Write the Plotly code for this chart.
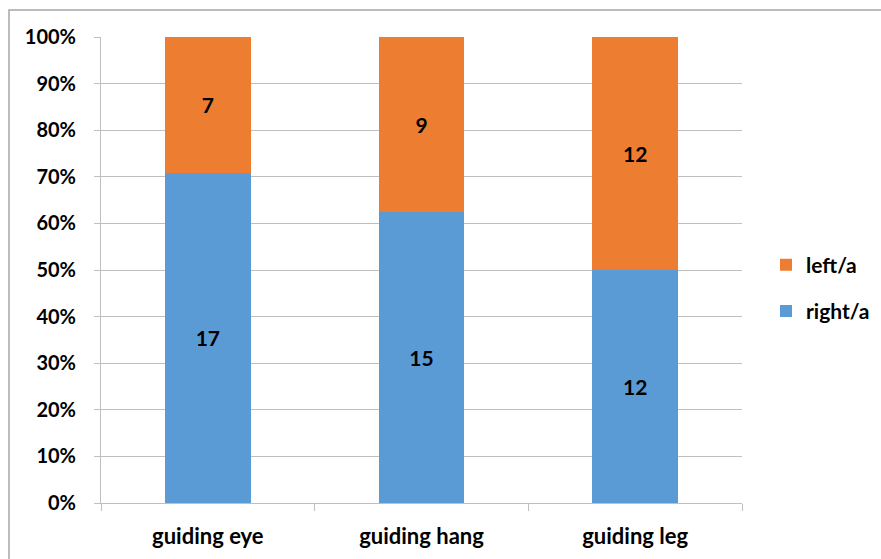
import plotly.graph_objects as go

categories = ["guiding eye", "guiding hang", "guiding leg"]
right_a = [17, 15, 12]
left_a = [7, 9, 12]
y_ticks = [0, 10, 20, 30, 40, 50, 60, 70, 80, 90, 100]
y_tick_labels = [f"{v}%" for v in y_ticks]

BLUE = "#5B9BD5"
ORANGE = "#ED7D31"
GRID = "#BFBFBF"
FONT = "Lato"

fig = go.Figure()
for name, vals, color, rank in [("right/a", right_a, BLUE, 2), ("left/a", left_a, ORANGE, 1)]:
    fig.add_trace(go.Bar(
        name=name, x=categories, y=vals, marker_color=color,
        marker_line_width=0, legendgroup=name, legendrank=rank,
        text=vals, texttemplate="%{text}", textposition="inside",
        insidetextanchor="middle", textangle=0,
        textfont=dict(family=FONT, size=21, color="black", weight="bold"),
    ))

W, H = 881, 559
L, R, T, B = 101, 139, 37, 56
pw, ph = W - L - R, H - T - B

fig.update_layout(
    width=W, height=H,
    margin=dict(l=L, r=R, t=T, b=B, autoexpand=False),
    barmode="stack", barnorm="percent", bargap=0.6,
    plot_bgcolor="white", paper_bgcolor="white",
    font=dict(family=FONT, size=20, color="black", weight="bold"),
    legend=dict(
        x=(766 - L) / pw, y=(503 - 288) / ph, xanchor="left", yanchor="middle",
        traceorder="grouped", tracegroupgap=16,
        font=dict(family=FONT, size=21, color="black", weight="bold"),
        itemwidth=30,
    ),
    xaxis=dict(
        showline=True, linecolor=GRID, linewidth=1,
        ticks="outside", tickson="boundaries", ticklen=7, tickcolor=GRID,
        ticklabelstandoff=14, showgrid=False,
        tickfont=dict(family=FONT, size=22, color="black", weight="bold"),
    ),
    yaxis=dict(
        range=[0, 100], tickmode="array", tickvals=y_ticks, ticktext=y_tick_labels,
        showgrid=True, gridcolor=GRID, gridwidth=1,
        showline=True, linecolor=GRID, linewidth=1,
        ticks="outside", ticklen=6, tickcolor=GRID,
        ticklabelstandoff=14, zeroline=False,
        tickfont=dict(family=FONT, size=20, color="black", weight="bold"),
    ),
    shapes=[dict(
        type="rect", xref="paper", yref="paper",
        x0=(9 - L) / pw, x1=(W + 10 - L) / pw,
        y0=(503 - (H + 10)) / ph, y1=(503 - 10) / ph,
        line=dict(color="#A6A6A6", width=1.5), fillcolor="rgba(0,0,0,0)",
        layer="below",
    )],
)

fig.write_html("out.html")
